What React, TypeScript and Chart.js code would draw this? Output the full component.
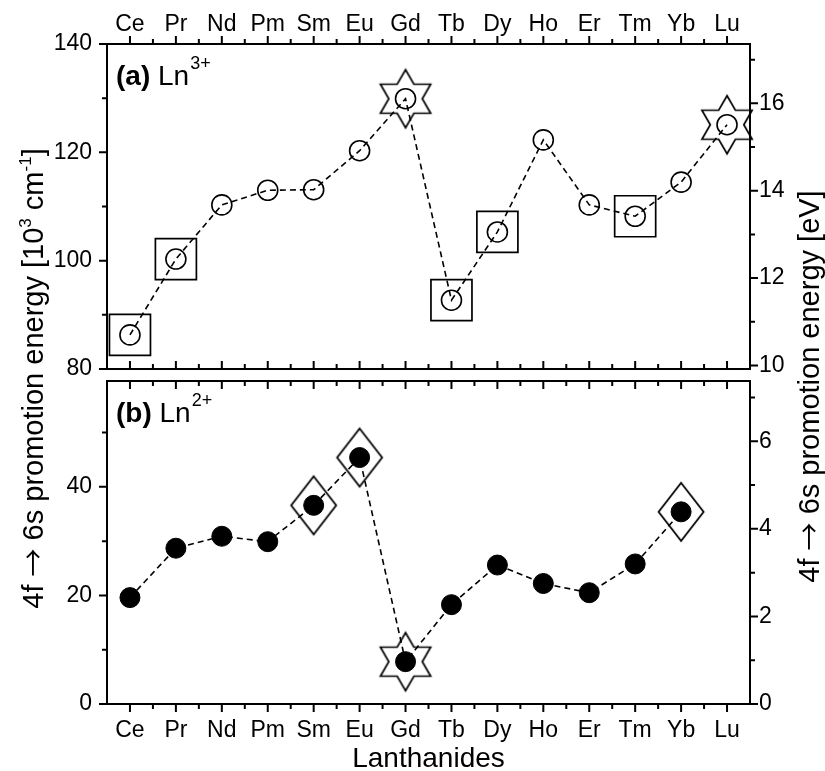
import React, { useEffect, useRef } from 'react';
import { Chart, registerables } from 'chart.js';

Chart.register(...registerables);

// ---------- data ----------
const lanthanides = ['Ce', 'Pr', 'Nd', 'Pm', 'Sm', 'Eu', 'Gd', 'Tb', 'Dy', 'Ho', 'Er', 'Tm', 'Yb', 'Lu'];
// 4f -> 6s promotion energy, 10^3 cm^-1
const ln3Promotion = [86.3, 100.3, 110.3, 113.0, 113.1, 120.3, 129.9, 92.7, 105.3, 122.3, 110.3, 108.2, 114.5, 125.1];
const ln2Promotion = [19.6, 28.7, 30.9, 29.9, 36.6, 45.4, 7.8, 18.3, 25.6, 22.2, 20.5, 25.8, 35.4, null];
const ln3SquareMarked = ['Ce', 'Pr', 'Tb', 'Dy', 'Tm'];
const ln3StarMarked = ['Gd', 'Lu'];
const ln2DiamondMarked = ['Sm', 'Eu', 'Yb'];
const ln2StarMarked = ['Gd'];

const topCmRange = [80, 140];
const topCmTicks = [80, 100, 120, 140];
const topCmMinor = [90, 110, 130];
const topEvTicks = [10, 12, 14, 16];
const topEvMinor = [11, 13, 15, 17];
const botCmRange = [0, 59.5];
const botCmTicks = [0, 20, 40];
const botCmMinor = [10, 30, 50];
const botEvTicks = [0, 2, 4, 6];
const botEvMinor = [1, 3, 5, 7];
const CM_PER_EV = 8.06554; // 10^3 cm^-1 per eV

const FONT = '"Liberation Sans", Arial, Helvetica, sans-serif';
const ARROW_FONT = '"Noto Sans CJK SC", "DejaVu Sans", sans-serif';
const W = 825;
const H = 771;

// ---------- helpers ----------
const seriesPoints = (vals: (number | null)[]) =>
  vals.map((v, i) => (v == null ? null : { x: i + 1, y: v })).filter(Boolean) as { x: number; y: number }[];
const markedPoints = (vals: (number | null)[], names: string[]) =>
  names.map((n) => {
    const i = lanthanides.indexOf(n);
    return { x: i + 1, y: vals[i] as number };
  });

function makeStar(R: number, lw: number) {
  const s = Math.ceil(2 * R + 2 * lw + 4) & ~1;
  const c = document.createElement('canvas');
  c.width = s;
  c.height = s;
  const g = c.getContext('2d')!;
  const r = R / Math.sqrt(3);
  g.beginPath();
  for (let k = 0; k < 12; k++) {
    const a = -Math.PI / 2 + (k * Math.PI) / 6;
    const rad = k % 2 === 0 ? R : r;
    const x = s / 2 + rad * Math.cos(a);
    const y = s / 2 + rad * Math.sin(a);
    if (k === 0) g.moveTo(x, y);
    else g.lineTo(x, y);
  }
  g.closePath();
  g.lineWidth = lw;
  g.strokeStyle = '#000';
  g.stroke();
  return c;
}

function makeDiamond(hw: number, hh: number, lw: number) {
  const w = Math.ceil(2 * hw + 2 * lw + 4) & ~1;
  const h = Math.ceil(2 * hh + 2 * lw + 4) & ~1;
  const c = document.createElement('canvas');
  c.width = w;
  c.height = h;
  const g = c.getContext('2d')!;
  g.beginPath();
  g.moveTo(w / 2, h / 2 - hh);
  g.lineTo(w / 2 + hw, h / 2);
  g.lineTo(w / 2, h / 2 + hh);
  g.lineTo(w / 2 - hw, h / 2);
  g.closePath();
  g.lineWidth = lw;
  g.strokeStyle = '#000';
  g.stroke();
  return c;
}

const fixBox = (w?: number, h?: number) => (s: any) => {
  if (w != null) s.width = w;
  if (h != null) s.height = h;
  s.paddingTop = 0;
  s.paddingBottom = 0;
  s.paddingLeft = 0;
  s.paddingRight = 0;
};
const setTicks = (vals: number[]) => (s: any) => {
  s.ticks = vals.map((v) => ({ value: v }));
};
const tickFont = { family: FONT, size: 23 };
const noGrid = { display: false, drawTicks: false };

type PanelOpts = {
  topOut: boolean;
  bottomOut: boolean;
  leftMajor: number[];
  leftMinor: number[];
  rightMajor: number[];
  rightMinor: number[];
  draw?: (ctx: CanvasRenderingContext2D, chart: any) => void;
};

function framePlugin(o: PanelOpts) {
  return {
    id: 'frameTicks',
    afterDraw(chart: any) {
      const { ctx, chartArea: a, scales } = chart;
      const MAJ = 8;
      const MIN = 5;
      ctx.save();
      ctx.strokeStyle = '#000';
      ctx.lineWidth = 2;
      ctx.beginPath();
      const seg = (x1: number, y1: number, x2: number, y2: number) => {
        ctx.moveTo(x1, y1);
        ctx.lineTo(x2, y2);
      };
      const xs = scales.x;
      lanthanides.forEach((_, i) => {
        const px = xs.getPixelForValue(i + 1);
        seg(px, a.top, px, a.top + (o.topOut ? -MAJ : MAJ));
        seg(px, a.bottom, px, a.bottom + (o.bottomOut ? MAJ : -MAJ));
        if (i < lanthanides.length - 1) {
          const pm = xs.getPixelForValue(i + 1.5);
          seg(pm, a.top, pm, a.top + (o.topOut ? -MIN : MIN));
          seg(pm, a.bottom, pm, a.bottom + (o.bottomOut ? MIN : -MIN));
        }
      });
      const yl = scales.y;
      const yr = scales.yEv;
      o.leftMajor.forEach((v) => {
        const py = yl.getPixelForValue(v);
        seg(a.left, py, a.left - MAJ, py);
      });
      o.leftMinor.forEach((v) => {
        const py = yl.getPixelForValue(v);
        seg(a.left, py, a.left - MIN, py);
      });
      o.rightMajor.forEach((v) => {
        const py = yr.getPixelForValue(v);
        seg(a.right, py, a.right + MAJ, py);
      });
      o.rightMinor.forEach((v) => {
        const py = yr.getPixelForValue(v);
        if (py >= a.top - 0.5) seg(a.right, py, a.right + MIN, py);
      });
      ctx.stroke();
      ctx.strokeRect(a.left, a.top, a.right - a.left, a.bottom - a.top);
      ctx.fillStyle = '#000';
      if (o.draw) o.draw(ctx, chart);
      ctx.restore();
    },
  };
}

function drawPanelLabel(ctx: CanvasRenderingContext2D, a: any, tag: string, ion: string, sup: string) {
  const x = a.left + 9;
  const base = a.top + 41;
  ctx.textAlign = 'left';
  ctx.textBaseline = 'alphabetic';
  ctx.font = `bold 28px ${FONT}`;
  ctx.fillText(tag, x, base);
  const tw = ctx.measureText(tag).width;
  ctx.font = `28px ${FONT}`;
  const sp = ctx.measureText(' ').width;
  ctx.fillText(ion, x + tw + sp, base);
  const iw = ctx.measureText(ion).width;
  ctx.font = `18px ${FONT}`;
  ctx.fillText(sup, x + tw + sp + iw + 1, base - 16.5);
}

type Piece = { t: string; kind?: 'sup' | 'arrow' };
function drawRotatedTitle(ctx: CanvasRenderingContext2D, pieces: Piece[], cx: number, cy: number, size: number) {
  const fontOf = (p: Piece) =>
    p.kind === 'sup'
      ? `${Math.round(size * 0.6)}px ${FONT}`
      : p.kind === 'arrow'
      ? `${Math.round(size * 0.95)}px ${ARROW_FONT}`
      : `${size}px ${FONT}`;
  const widthOf = (p: Piece) => {
    ctx.font = fontOf(p);
    return ctx.measureText(p.t).width;
  };
  const total = pieces.reduce((s, p) => s + widthOf(p), 0);
  ctx.save();
  ctx.translate(cx, cy);
  ctx.rotate(-Math.PI / 2);
  ctx.textAlign = 'left';
  ctx.textBaseline = 'alphabetic';
  let x = -total / 2;
  pieces.forEach((p) => {
    ctx.font = fontOf(p);
    const dy = p.kind === 'sup' ? -size * 0.42 : p.kind === 'arrow' ? size * 0.05 : 0;
    ctx.fillText(p.t, x, dy);
    x += ctx.measureText(p.t).width;
  });
  ctx.restore();
}

const leftTitle: Piece[] = [
  { t: '4f ' },
  { t: '\u2192', kind: 'arrow' },
  { t: ' 6s promotion energy [10' },
  { t: '3', kind: 'sup' },
  { t: ' cm' },
  { t: '-1', kind: 'sup' },
  { t: ']' },
];
const rightTitle: Piece[] = [
  { t: '4f ' },
  { t: '\u2192', kind: 'arrow' },
  { t: ' 6s promotion energy [eV]' },
];

function xScale(position: 'top' | 'bottom', height: number, pad: number) {
  return {
    type: 'linear',
    position,
    min: 0.5,
    max: 14.5,
    grid: noGrid,
    border: { display: false },
    afterBuildTicks: setTicks(lanthanides.map((_, i) => i + 1)),
    ticks: {
      autoSkip: false,
      maxRotation: 0,
      minRotation: 0,
      padding: pad,
      color: '#000',
      font: tickFont,
      callback: (v: number) => lanthanides[Math.round(v) - 1] ?? '',
    },
    afterFit: fixBox(undefined, height),
  };
}

function yScale(position: 'left' | 'right', min: number, max: number, ticks: number[], width: number, pad: number) {
  return {
    type: 'linear',
    position,
    min,
    max,
    grid: noGrid,
    border: { display: false },
    afterBuildTicks: setTicks(ticks),
    ticks: { padding: pad, color: '#000', font: tickFont, callback: (v: number) => String(v) },
    afterFit: fixBox(width),
  };
}

export default function App() {
  const topRef = useRef<HTMLCanvasElement>(null);
  const botRef = useRef<HTMLCanvasElement>(null);

  useEffect(() => {
    const star = makeStar(29, 1.7);
    const diamond = makeDiamond(22.5, 29, 1.8);
    const lineCommon = {
      borderColor: '#000',
      borderWidth: 1.6,
      borderDash: [6, 4],
      tension: 0,
      fill: false,
      yAxisID: 'y',
      clip: false,
    };

    const top = new Chart(topRef.current!, {
      type: 'line',
      data: {
        datasets: [
          {
            ...lineCommon,
            data: seriesPoints(ln3Promotion),
            pointStyle: 'circle',
            pointRadius: 10,
            pointBorderWidth: 1.6,
            pointBorderColor: '#000',
            pointBackgroundColor: 'rgba(0,0,0,0)',
            order: 0,
          },
          {
            data: markedPoints(ln3Promotion, ln3SquareMarked),
            showLine: false,
            yAxisID: 'y',
            pointStyle: 'rect',
            pointRadius: 29,
            pointBorderWidth: 1.7,
            pointBorderColor: '#000',
            pointBackgroundColor: 'rgba(0,0,0,0)',
            clip: false,
            order: 1,
          },
          {
            data: markedPoints(ln3Promotion, ln3StarMarked),
            showLine: false,
            yAxisID: 'y',
            pointStyle: star,
            pointRadius: 1,
            clip: false,
            order: 1,
          },
        ],
      } as any,
      options: {
        responsive: false,
        animation: false,
        events: [],
        devicePixelRatio: 1,
        layout: { padding: { left: 0, right: 0, top: 0, bottom: H - 369 } },
        plugins: { legend: { display: false }, tooltip: { enabled: false } },
        scales: {
          x: xScale('top', 44, 6),
          y: yScale('left', topCmRange[0], topCmRange[1], topCmTicks, 107, 15),
          yEv: yScale('right', topCmRange[0] / CM_PER_EV, topCmRange[1] / CM_PER_EV, topEvTicks, W - 750, 9),
        },
      } as any,
      plugins: [
        framePlugin({
          topOut: true,
          bottomOut: false,
          leftMajor: topCmTicks,
          leftMinor: topCmMinor,
          rightMajor: topEvTicks,
          rightMinor: topEvMinor,
          draw: (ctx, chart) => {
            drawPanelLabel(ctx, chart.chartArea, '(a)', 'Ln', '3+');
            drawRotatedTitle(ctx, leftTitle, 43, 378.5, 29);
            drawRotatedTitle(ctx, rightTitle, 819, 386.5, 29);
          },
        }) as any,
      ],
    });

    const bot = new Chart(botRef.current!, {
      type: 'line',
      data: {
        datasets: [
          {
            ...lineCommon,
            data: seriesPoints(ln2Promotion),
            pointStyle: 'circle',
            pointRadius: 10,
            pointBorderWidth: 1,
            pointBorderColor: '#000',
            pointBackgroundColor: '#000',
            order: 0,
          },
          {
            data: markedPoints(ln2Promotion, ln2DiamondMarked),
            showLine: false,
            yAxisID: 'y',
            pointStyle: diamond,
            pointRadius: 1,
            clip: false,
            order: 1,
          },
          {
            data: markedPoints(ln2Promotion, ln2StarMarked),
            showLine: false,
            yAxisID: 'y',
            pointStyle: star,
            pointRadius: 1,
            clip: false,
            order: 1,
          },
        ],
      } as any,
      options: {
        responsive: false,
        animation: false,
        events: [],
        devicePixelRatio: 1,
        layout: { padding: { left: 0, right: 0, top: 381, bottom: 0 } },
        plugins: { legend: { display: false }, tooltip: { enabled: false } },
        scales: {
          x: xScale('bottom', H - 704, 13),
          y: yScale('left', botCmRange[0], botCmRange[1], botCmTicks, 107, 15),
          yEv: yScale('right', botCmRange[0] / CM_PER_EV, botCmRange[1] / CM_PER_EV, botEvTicks, W - 750, 9),
        },
      } as any,
      plugins: [
        framePlugin({
          topOut: false,
          bottomOut: true,
          leftMajor: botCmTicks,
          leftMinor: botCmMinor,
          rightMajor: botEvTicks,
          rightMinor: botEvMinor,
          draw: (ctx, chart) => {
            drawPanelLabel(ctx, chart.chartArea, '(b)', 'Ln', '2+');
            const a = chart.chartArea;
            ctx.font = `28px ${FONT}`;
            ctx.textAlign = 'center';
            ctx.textBaseline = 'alphabetic';
            ctx.fillText('Lanthanides', (a.left + a.right) / 2, 767);
          },
        }) as any,
      ],
    });

    return () => {
      top.destroy();
      bot.destroy();
    };
  }, []);

  return (
    <div style={{ position: 'fixed', left: 0, top: 0, width: W, height: H, overflow: 'hidden', background: '#fff' }}>
      <canvas ref={topRef} width={W} height={H} style={{ position: 'absolute', left: 0, top: 0 }} />
      <canvas ref={botRef} width={W} height={H} style={{ position: 'absolute', left: 0, top: 0 }} />
    </div>
  );
}
